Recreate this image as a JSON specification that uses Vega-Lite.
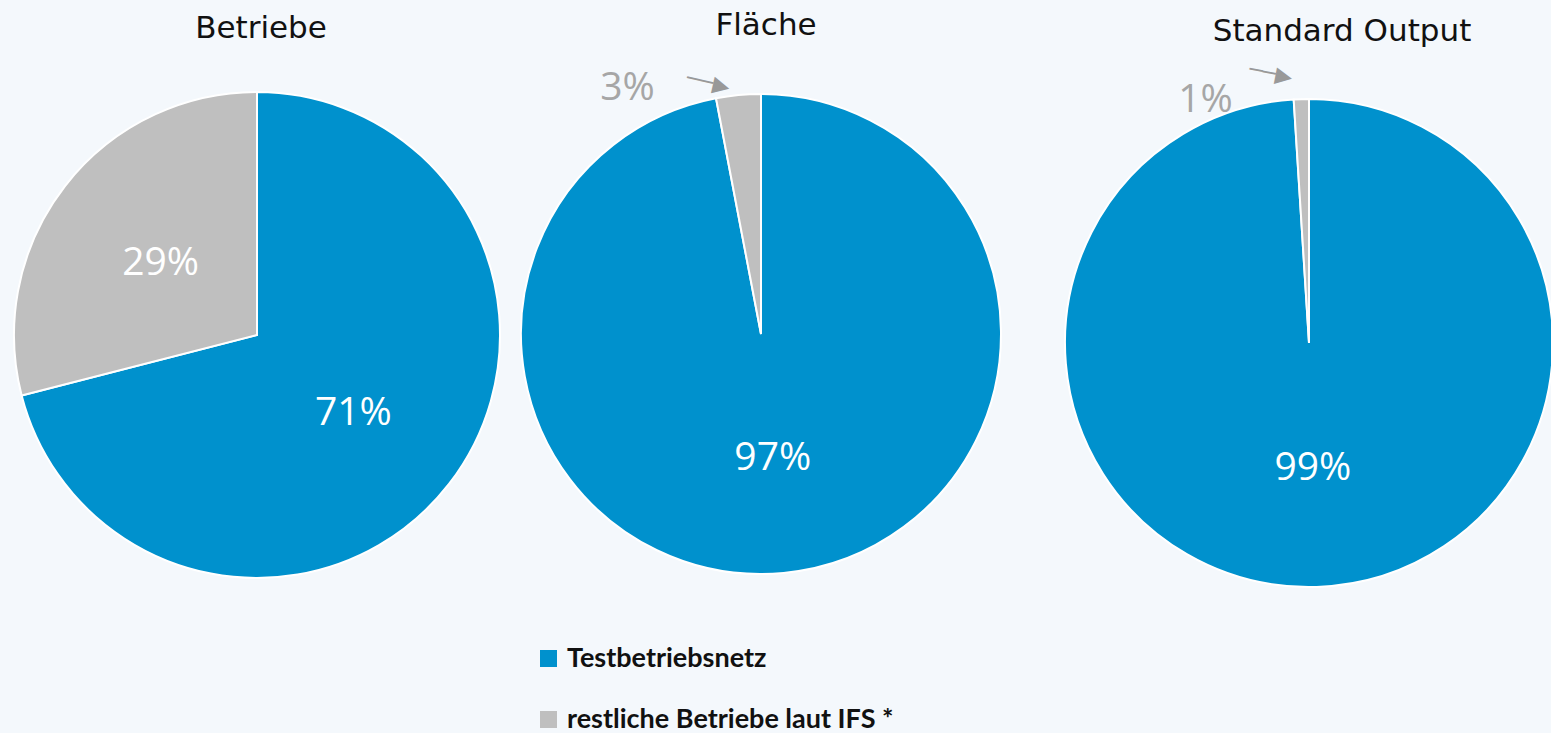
{
  "$schema": "https://vega.github.io/schema/vega-lite/v6.json",
  "background": "#f4f8fc",
  "padding": {"top": 10, "left": 0, "right": 0, "bottom": 0},
  "bounds": "flush",
  "spacing": 6,
  "resolve": {"scale": {"color": "shared"}, "legend": {"color": "shared"}},
  "hconcat": [
    {
      "width": 514,
      "height": 540,
      "title": {"text": "Betriebe", "offset": 20, "dx": 4},
      "data": {"values": [
        {"kategorie": "Testbetriebsnetz", "anteil": 0.71},
        {"kategorie": "restliche Betriebe laut IFS *", "anteil": 0.29}
      ]},
      "encoding": {
        "theta": {"field": "anteil", "type": "quantitative", "stack": true},
        "order": {"field": "kategorie", "type": "nominal", "sort": "ascending"}
      },
      "layer": [
        {
          "mark": {"type": "arc", "radius": 243, "stroke": "#ffffff", "strokeWidth": 2},
          "encoding": {
            "color": {
              "field": "kategorie", "type": "nominal",
              "scale": {"domain": ["Testbetriebsnetz", "restliche Betriebe laut IFS *"], "range": ["#0091cd", "#bfbfbf"]},
              "legend": {"title": null, "orient": "none", "legendX": 535, "legendY": 580, "direction": "vertical"}
            }
          }
        },
        {
          "mark": {"type": "text", "radius": 122, "dy": 3, "font": "Open Sans", "fontSize": 39, "fill": "#ffffff"},
          "encoding": {
            "detail": {"field": "kategorie", "type": "nominal"},
            "text": {"field": "anteil", "type": "quantitative", "format": ".0%"}
          }
        }
      ]
    },
    {
      "bounds": "flush",
      "spacing": 65,
      "hconcat": [
        {
          "width": 482,
          "height": 538,
          "title": {"text": "Fläche", "offset": 23, "dx": 5},
          "data": {"values": [
            {"kategorie": "Testbetriebsnetz", "anteil": 0.97},
            {"kategorie": "restliche Betriebe laut IFS *", "anteil": 0.03}
          ]},
          "encoding": {
            "theta": {"field": "anteil", "type": "quantitative", "stack": true},
            "order": {"field": "kategorie", "type": "nominal", "sort": "ascending"}
          },
          "layer": [
            {
              "mark": {"type": "text", "radius": 270, "dx": -108, "dy": 23, "font": "Open Sans", "fontSize": 39, "fill": "#a6a6a6"},
              "encoding": {
                "detail": {"field": "kategorie", "type": "nominal"},
                "text": {"condition": {"test": "datum.kategorie !== 'Testbetriebsnetz'", "field": "anteil", "type": "quantitative", "format": ".0%"}, "value": ""}
              }
            },
            {
              "mark": {"type": "arc", "radius": 240, "stroke": "#ffffff", "strokeWidth": 2},
              "encoding": {
                "color": {
                  "field": "kategorie", "type": "nominal",
                  "scale": {"domain": ["Testbetriebsnetz", "restliche Betriebe laut IFS *"], "range": ["#0091cd", "#bfbfbf"]},
                  "legend": {"title": null, "orient": "none", "legendX": 535, "legendY": 580, "direction": "vertical"}
                }
              }
            },
            {
              "mark": {"type": "text", "radius": 125, "font": "Open Sans", "fontSize": 39, "fill": "#ffffff"},
              "encoding": {
                "detail": {"field": "kategorie", "type": "nominal"},
                "text": {"condition": {"test": "datum.kategorie === 'Testbetriebsnetz'", "field": "anteil", "type": "quantitative", "format": ".0%"}, "value": ""}
              }
            },
            {
              "mark": {"type": "text", "radius": 250, "dx": -29, "dy": 4, "angle": 13, "font": "DejaVu Sans", "fontSize": 22, "fill": "#999999"},
              "encoding": {
                "detail": {"field": "kategorie", "type": "nominal"},
                "text": {"condition": {"test": "datum.kategorie !== 'Testbetriebsnetz'", "value": "──▶"}, "value": ""}
              }
            }
          ]
        },
        {
          "width": 484,
          "height": 556,
          "title": {"text": "Standard Output", "offset": 10, "dx": 33},
          "data": {"values": [
            {"kategorie": "Testbetriebsnetz", "anteil": 0.99},
            {"kategorie": "restliche Betriebe laut IFS *", "anteil": 0.01}
          ]},
          "encoding": {
            "theta": {"field": "anteil", "type": "quantitative", "stack": true},
            "order": {"field": "kategorie", "type": "nominal", "sort": "ascending"}
          },
          "layer": [
            {
              "mark": {"type": "text", "radius": 270, "dx": -95, "dy": 27, "font": "Open Sans", "fontSize": 39, "fill": "#a6a6a6"},
              "encoding": {
                "detail": {"field": "kategorie", "type": "nominal"},
                "text": {"condition": {"test": "datum.kategorie !== 'Testbetriebsnetz'", "field": "anteil", "type": "quantitative", "format": ".0%"}, "value": ""}
              }
            },
            {
              "mark": {"type": "arc", "radius": 244, "stroke": "#ffffff", "strokeWidth": 2},
              "encoding": {
                "color": {
                  "field": "kategorie", "type": "nominal",
                  "scale": {"domain": ["Testbetriebsnetz", "restliche Betriebe laut IFS *"], "range": ["#0091cd", "#bfbfbf"]},
                  "legend": {"title": null, "orient": "none", "legendX": 535, "legendY": 580, "direction": "vertical"}
                }
              }
            },
            {
              "mark": {"type": "text", "radius": 125, "font": "Open Sans", "fontSize": 39, "fill": "#ffffff"},
              "encoding": {
                "detail": {"field": "kategorie", "type": "nominal"},
                "text": {"condition": {"test": "datum.kategorie === 'Testbetriebsnetz'", "field": "anteil", "type": "quantitative", "format": ".0%"}, "value": ""}
              }
            },
            {
              "mark": {"type": "text", "radius": 266, "dx": -30, "dy": 2, "angle": 11, "font": "DejaVu Sans", "fontSize": 22, "fill": "#999999"},
              "encoding": {
                "detail": {"field": "kategorie", "type": "nominal"},
                "text": {"condition": {"test": "datum.kategorie !== 'Testbetriebsnetz'", "value": "──▶"}, "value": ""}
              }
            }
          ]
        }
      ]
    }
  ],
  "config": {
    "view": {"stroke": null},
    "title": {"font": "DejaVu Sans", "fontSize": 31, "fontWeight": "normal", "color": "#111111", "baseline": "alphabetic"},
    "legend": {
      "symbolType": "square",
      "symbolSize": 289,
      "symbolStrokeWidth": 0,
      "labelFont": "Lato",
      "labelFontSize": 27,
      "labelFontWeight": "bold",
      "labelColor": "#111111",
      "labelOffset": 5,
      "rowPadding": 33,
      "labelLimit": 500,
      "padding": 0
    }
  }
}
